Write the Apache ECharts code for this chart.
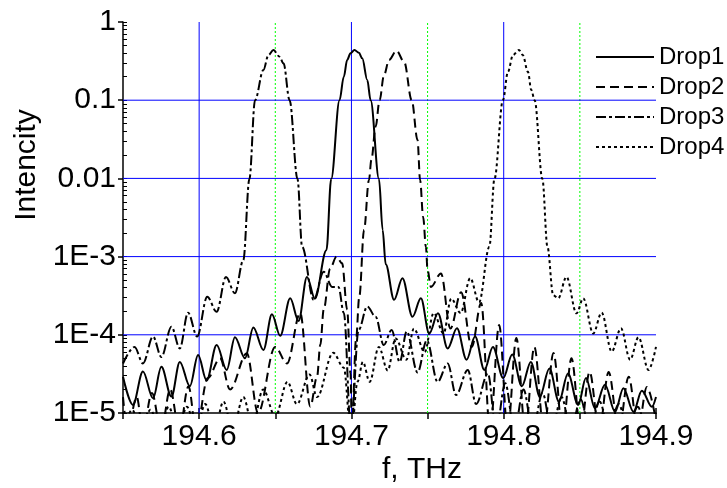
<!DOCTYPE html>
<html>
<head>
<meta charset="utf-8">
<script src="https://cdn.jsdelivr.net/npm/echarts@6.0.0/dist/echarts.min.js"></script>
<style>
  html, body { margin: 0; padding: 0; background: #fff; }
  #chart { width: 727px; height: 488px; }
</style>
</head>
<body>
<div id="chart"></div>
<script>
// data: frequency (THz) and intensity
var d1F = [194.5500,194.5565,194.5631,194.5697,194.5752,194.5818,194.5873,194.5939,194.5993,194.6049,
           194.6115,194.6181,194.6235,194.6301,194.6356,194.6422,194.6478,194.6532,194.6598,194.6653,
           194.6708,194.6760,194.6836,194.6867,194.6922,194.6950,194.6972,194.6994,194.7020,194.7049,
           194.7071,194.7104,194.7126,194.7181,194.7205,194.7225,194.7280,194.7335,194.7401,194.7456,
           194.7511,194.7568,194.7632,194.7693,194.7756,194.7812,194.7873,194.7929,194.7997,194.8056,
           194.8119,194.8178,194.8237,194.8300,194.8363,194.8422,194.8489,194.8540,194.8599,194.8665,
           194.8731,194.8786,194.8852,194.8907,194.8973,194.9000];
var d1V = [2.9e-5,1.27e-5,3.4e-5,1.54e-5,3.9e-5,1.62e-5,4.5e-5,2.2e-5,5.5e-5,2.6e-5,
           7.4e-5,3.55e-5,9.3e-5,5.0e-5,1.24e-4,6.4e-5,1.83e-4,9.7e-5,2.93e-4,1.5e-4,
           5.5e-4,2.9e-4,1.21e-3,9.8e-3,0.1,0.2,0.327,0.398,0.438,0.405,
           0.343,0.181,0.1,9.8e-3,2.19e-3,8.0e-4,2.8e-4,5.3e-4,1.7e-4,2.93e-4,
           1.04e-4,1.88e-4,6.7e-5,1.21e-4,4.8e-5,9.5e-5,3.55e-5,7.0e-5,2.8e-5,5.6e-5,
           2.2e-5,4.5e-5,1.62e-5,3.7e-5,1.4e-5,3.2e-5,1.27e-5,2.8e-5,1.15e-5,2.3e-5,
           1.04e-5,2.07e-5,1.04e-5,1.93e-5,1.2e-5,1.6e-5];

var d2F = [194.5500,194.5530,194.5590,194.5630,194.5690,194.5750,194.5810,194.5870,194.5930,194.5980,
           194.6057,194.6137,194.6203,194.6313,194.6387,194.6499,194.6577,194.6664,
           194.6730,194.6774,194.6796,194.6818,194.6860,194.6902,194.6939,194.6972,194.6994,194.7003,
           194.7030,194.7052,194.7083,194.7115,194.7131,194.7159,194.7185,194.7214,194.7247,
           194.7296,194.7346,194.7396,194.7434,194.7451,194.7471,194.7489,194.7500,194.7522,194.7588,
           194.7650,194.7720,194.7790,194.7852,194.7910,194.7970,194.8026,194.8083,194.8142,194.8201,
           194.8264,194.8327,194.8386,194.8445,194.8505,194.8564,194.8627,194.8689,194.8755,194.8821,
           194.8881,194.8940,194.9000];
var d2V = [1.6e-5,6e-6,1.6e-5,6e-6,1.8e-5,6e-6,2.0e-5,6e-6,2.2e-5,6e-6,
           2.8e-5,5e-5,2e-5,5.8e-5,1e-5,7e-5,4.3e-5,1.9e-4,
           1.2e-5,2.9e-5,7.5e-5,2.1e-4,7e-4,1.0e-3,8.2e-4,2.1e-4,3.2e-5,6e-6,
           8.6e-5,3.1e-4,2.2e-3,9.5e-3,0.0172,0.0458,0.1,0.21,0.327,
           0.43,0.31,0.1,0.031,9.5e-3,3.2e-3,1.34e-3,6.7e-4,4.1e-4,6.1e-4,
           1.2e-4,3.5e-4,7e-5,2.55e-4,6e-6,1.33e-4,6e-6,9.1e-5,6e-6,7e-5,
           6e-6,5.85e-5,6e-6,5e-5,6e-6,3.35e-5,6e-6,3.35e-5,6e-6,2.9e-5,
           6e-6,2.15e-5,8e-6];

var d3F = [194.5500,194.5576,194.5631,194.5697,194.5752,194.5818,194.5873,194.5927,194.5987,194.6053,
           194.6115,194.6176,194.6235,194.6290,194.6330,194.6367,194.6422,194.6455,194.6488,
           194.6528,194.6554,194.6594,194.6646,194.6676,194.6752,194.6818,194.6873,194.6915,194.6950,
           194.6997,194.7047,194.7104,194.7159,194.7212,194.7264,194.7317,194.7363,194.7434,194.7495,
           194.7566,194.7632,194.7687,194.7764,194.7819,194.7896,194.7950,194.8010,194.8070,194.8130,
           194.8190,194.8255,194.8315,194.8380,194.8440,194.8505,194.8565,194.8630,194.8690,194.8755,
           194.8815,194.8880,194.8940,194.9000];
var d3V = [4.3e-5,7.0e-5,4.3e-5,9.5e-5,5.2e-5,1.27e-4,6.7e-5,1.92e-4,9.5e-5,3.07e-4,
           1.97e-4,5.5e-4,3.4e-4,9.0e-4,9.8e-3,0.1,0.243,0.378,0.438,
           0.36,0.296,0.1,9.8e-3,1.34e-3,2.8e-4,6.4e-4,4.1e-4,4.1e-4,1.9e-4,
           6e-6,1.15e-4,2.3e-4,1.7e-4,7.4e-5,1.15e-4,4.5e-5,1.1e-4,3.3e-5,8.5e-5,
           2.5e-5,4.3e-5,1.7e-5,3.55e-5,1.3e-5,3.2e-5,6e-6,2.4e-5,6e-6,2.0e-5,
           6e-6,1.8e-5,6e-6,1.6e-5,6e-6,1.5e-5,6e-6,1.4e-5,6e-6,1.3e-5,
           6e-6,1.2e-5,6e-6,1.0e-5];

var d4F = [194.5500,194.5560,194.5620,194.5680,194.5740,194.5800,194.5860,194.5920,194.5980,194.6040,
           194.6100,194.6160,194.6220,194.6290,194.6350,194.6420,194.6500,194.6580,194.6642,194.6725,
           194.6774,194.6880,194.6950,194.6998,194.7040,194.7075,194.7120,194.7180,194.7238,194.7290,
           194.7361,194.7410,194.7481,194.7540,194.7605,194.7655,194.7717,194.7780,194.7838,194.7906,
           194.7939,194.7995,194.8028,194.8061,194.8100,194.8125,194.8159,194.8181,194.8203,194.8254,
           194.8287,194.8325,194.8358,194.8412,194.8478,194.8522,194.8588,194.8643,194.8709,194.8770,
           194.8830,194.8885,194.8951,194.9000];
var d4V = [6e-6,1.1e-5,6e-6,1.1e-5,6e-6,1.2e-5,6e-6,1.2e-5,6e-6,1.3e-5,
           6e-6,1.4e-5,6e-6,1.6e-5,7e-6,2.0e-5,9e-6,2.5e-5,1.3e-5,3.1e-5,
           1.6e-5,5.9e-5,3.8e-5,5e-6,2.5e-5,4.5e-5,2.5e-5,7e-5,3.5e-5,9e-5,
           4.8e-5,1.2e-4,6e-5,1.9e-4,1.04e-4,2.9e-4,1.9e-4,5.3e-4,2.6e-4,1.34e-3,
           9.8e-3,0.1,0.231,0.378,0.438,0.378,0.231,0.135,0.1,9.8e-3,
           1.34e-3,3.2e-4,2.93e-4,5.5e-4,1.88e-4,2.93e-4,1.04e-4,1.92e-4,6.1e-5,1.21e-4,
           4.8e-5,9.3e-5,3.55e-5,7e-5];

var seriesNames = ['Drop1', 'Drop2', 'Drop3', 'Drop4'];
var yTickLabels = ['1E-5', '1E-4', '1E-3', '0.01', '0.1', '1'];
var xTickLabels = ['194.6', '194.7', '194.8', '194.9'];
var blueX = [194.6, 194.7, 194.8];
var greenX = [194.65, 194.75, 194.85];
var blueY = [0.1, 0.01, 0.001, 0.0001];

var X_MIN = 194.55, X_MAX = 194.9, Y_MIN = 1e-5, Y_MAX = 1;

function pairs(f, v) {
    var out = [];
    for (var i = 0; i < f.length; i++) out.push([f[i], v[i]]);
    return out;
}

// log minor ticks 2..9 in every decade
var minorY = [];
[1e-5, 1e-4, 1e-3, 1e-2, 1e-1].forEach(function (d) {
    for (var k = 1; k <= 9; k++) minorY.push(k * d);
});
minorY.push(1);

var FONT = 'Arial, "Liberation Sans", sans-serif';

var myChart = echarts.init(document.getElementById('chart'));

// grid lines drawn as plain two-point lines under the curves
function gridSeries(points, color, dash) {
    return {
        type: 'line',
        data: points,
        silent: true,
        showSymbol: false,
        symbol: 'none',
        z: 1,
        lineStyle: { color: color, width: 1, type: dash }
    };
}
var gridLines = [];
blueX.forEach(function (x) {
    gridLines.push(gridSeries([[x, Y_MIN], [x, Y_MAX]], '#0000ff', 'solid'));
});
greenX.forEach(function (x) {
    gridLines.push(gridSeries([[x, Y_MIN], [x, Y_MAX]], '#00ff00', [2, 2]));
});
blueY.forEach(function (y) {
    gridLines.push(gridSeries([[X_MIN, y], [X_MAX, y]], '#0000ff', 'solid'));
});

function curve(name, f, v, dash) {
    return {
        name: name,
        type: 'line',
        data: pairs(f, v),
        showSymbol: false,
        symbol: 'none',
        smooth: 0.35,
        smoothMonotone: 'x',
        clip: true,
        z: 3,
        itemStyle: { color: '#000' },
        lineStyle: { color: '#000', width: 2, type: dash }
    };
}

var option = {
    animation: false,
    backgroundColor: '#fff',
    grid: { left: 123, right: 71, top: 22, bottom: 75 },
    legend: {
        data: seriesNames,
        orient: 'vertical',
        left: 590,
        top: 40,
        itemWidth: 58,
        itemHeight: 14,
        itemGap: 6,
        selectedMode: false,
        itemStyle: { opacity: 0 },
        textStyle: { fontSize: 24, fontFamily: FONT, color: '#000' }
    },
    xAxis: [{
        type: 'value',
        min: X_MIN,
        max: X_MAX,
        interval: 0.05,
        axisLine: { lineStyle: { color: '#000', width: 1.5 } },
        axisTick: { inside: false, length: 6, lineStyle: { color: '#000', width: 1.5 } },
        splitLine: { show: false },
        axisLabel: {
            color: '#000', fontSize: 30, fontFamily: FONT, margin: 9,
            formatter: function (v) {
                var s = v.toFixed(1);
                return xTickLabels.indexOf(s) >= 0 && Math.abs(v - parseFloat(s)) < 1e-6 ? s : '';
            }
        }
    }, {
        type: 'value',
        position: 'bottom',
        min: X_MIN,
        max: X_MAX,
        axisLine: { show: false },
        axisLabel: { show: false },
        splitLine: { show: false },
        axisTick: {
            show: true, inside: true, length: 5,
            customValues: xTickLabels.map(Number),
            lineStyle: { color: '#000', width: 1.5 }
        }
    }],
    yAxis: [{
        type: 'log',
        logBase: 10,
        min: Y_MIN,
        max: Y_MAX,
        axisLine: { show: true, lineStyle: { color: '#000', width: 1.5 } },
        axisTick: { show: true, inside: false, length: 5, lineStyle: { color: '#000', width: 1.5 } },
        splitLine: { show: false },
        axisLabel: {
            color: '#000', fontSize: 30, fontFamily: FONT, margin: 7,
            formatter: function (v) {
                var e = Math.round(Math.log(v) / Math.LN10);
                return yTickLabels[e + 5];
            }
        }
    }, {
        type: 'log',
        logBase: 10,
        min: Y_MIN,
        max: Y_MAX,
        position: 'left',
        axisLine: { show: false },
        axisLabel: { show: false },
        splitLine: { show: false },
        axisTick: {
            show: true, inside: true, length: 4,
            customValues: minorY,
            lineStyle: { color: '#000', width: 1 }
        }
    }],
    graphic: [{
        type: 'text',
        x: 27, y: 165,
        rotation: Math.PI / 2,
        style: {
            text: 'Intencity', fill: '#000',
            font: '30px ' + FONT,
            align: 'center', verticalAlign: 'middle',
            textAlign: 'center', textVerticalAlign: 'middle'
        }
    }, {
        type: 'text',
        x: 422, y: 470,
        style: {
            text: 'f, THz', fill: '#000',
            font: '30px ' + FONT,
            align: 'center', verticalAlign: 'middle',
            textAlign: 'center', textVerticalAlign: 'middle'
        }
    }],
    series: gridLines.concat([
        curve('Drop1', d1F, d1V, 'solid'),
        curve('Drop2', d2F, d2V, [9, 5]),
        curve('Drop3', d3F, d3V, [10, 3, 3, 3]),
        curve('Drop4', d4F, d4V, [3, 3])
    ])
};

myChart.setOption(option);
</script>
</body>
</html>
